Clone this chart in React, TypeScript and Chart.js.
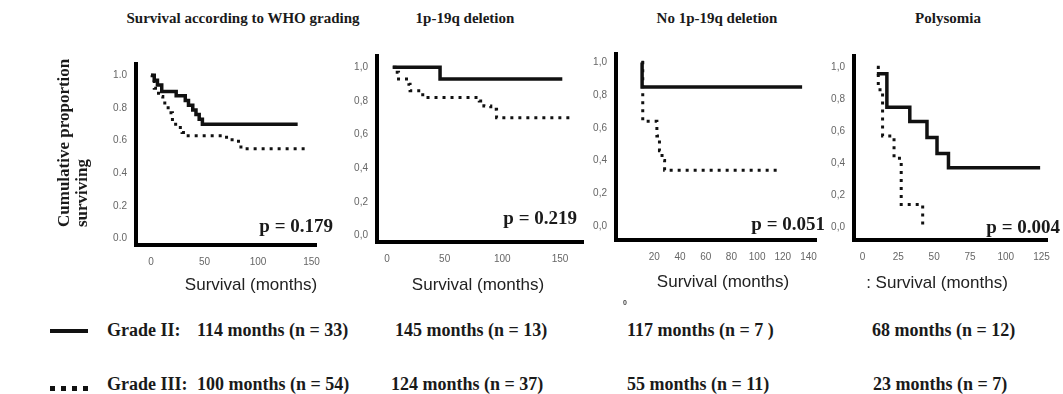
import React, { useEffect, useRef } from 'react';
import { Chart, registerables } from 'chart.js';

Chart.register(...registerables);

// ---------- DATA ----------
// Panel 1: Survival according to WHO grading
const p1Grade2Months = [0, 3, 6, 10, 23.5, 32, 35, 39, 42, 45, 48, 137];
const p1Grade2Surv = [1.0, 0.97, 0.94, 0.9, 0.875, 0.846, 0.817, 0.788, 0.759, 0.73, 0.7, 0.7];
const p1Grade3Months = [0, 1, 3, 7, 11, 16, 20, 23, 29, 33, 68, 74, 80, 84, 147];
const p1Grade3Surv = [1.0, 0.97, 0.92, 0.87, 0.83, 0.77, 0.71, 0.68, 0.65, 0.63, 0.62, 0.605, 0.595, 0.55, 0.55];

// Panel 2: 1p-19q deletion
const p2Grade2Months = [5, 46, 152];
const p2Grade2Surv = [1.0, 0.93, 0.93];
const p2Grade3Months = [5, 7, 10, 19, 20, 31, 80, 84, 90, 95, 162];
const p2Grade3Surv = [1.0, 0.97, 0.93, 0.9, 0.86, 0.82, 0.8, 0.77, 0.75, 0.7, 0.7];

// Panel 3: No 1p-19q deletion
const p3Grade2Months = [10, 10.5, 135];
const p3Grade2Surv = [1.0, 0.85, 0.85];
const p3Grade3Months = [10, 11, 22, 24, 26, 28, 117];
const p3Grade3Surv = [1.0, 0.64, 0.55, 0.46, 0.4, 0.34, 0.34];

// Panel 4: Polysomia
const p4Grade2Months = [10, 17, 33, 45, 52, 60, 124];
const p4Grade2Surv = [0.96, 0.75, 0.66, 0.56, 0.46, 0.37, 0.37];
const p4Grade3Months = [10, 11, 14, 22, 27, 42];
const p4Grade3Surv = [1.0, 0.86, 0.57, 0.43, 0.14, 0.0];

// Tick values / labels
const yTickValues = [0, 0.2, 0.4, 0.6, 0.8, 1.0];
const yTickLabelsDot = ['0.0', '0.2', '0.4', '0.6', '0.8', '1.0'];
const yTickLabelsComma = ['0,0', '0,2', '0,4', '0,6', '0,8', '1,0'];
const p1XTicks = [0, 50, 100, 150];
const p2XTicks = [0, 50, 100, 150];
const p3XTicks = [20, 40, 60, 80, 100, 120, 140];
const p4XTicks = [0, 25, 50, 75, 100, 125];

// Texts
const panelTitles = ['Survival according to WHO grading', '1p-19q deletion', 'No 1p-19q deletion', 'Polysomia'];
const xAxisTitles = ['Survival (months)', 'Survival (months)', 'Survival (months)', ': Survival (months)'];
const pValues = ['p = 0.179', 'p = 0.219', 'p = 0.051', 'p = 0.004'];
const yAxisTitle = 'Cumulative proportion\nsurviving';
const legendGroups = ['Grade II:', 'Grade III:'];
const grade2Medians = ['114 months (n = 33)', '145 months (n = 13)', '117 months (n = 7 )', '68 months (n = 12)'];
const grade3Medians = ['100 months (n = 54)', '124 months (n = 37)', '55 months (n = 11)', '23 months (n = 7)'];

// ---------- LAYOUT ----------
const SERIF = '"Liberation Serif", "Times New Roman", serif';
const SANS = '"Liberation Sans", Arial, sans-serif';
const YW = 40;
const XH = 34;
const PADT = 4;
const PADR = 3;

type Geo = {
  axisLeft: number; axisTop: number; axisBottom: number; axisRight: number;
  y1px: number; y0px: number;
  xa: number; pa: number; xb: number; pb: number;
};

const geos: Geo[] = [
  { axisLeft: 136, axisTop: 53, axisBottom: 245, axisRight: 328, y1px: 65, y0px: 238, xa: 0, pa: 152, xb: 150, pb: 323 },
  { axisLeft: 377, axisTop: 45, axisBottom: 242, axisRight: 583, y1px: 57, y0px: 235, xa: 0, pa: 387, xb: 150, pb: 560 },
  { axisLeft: 616, axisTop: 43, axisBottom: 240, axisRight: 825, y1px: 52, y0px: 225, xa: 20, pa: 656, xb: 140, pb: 817 },
  { axisLeft: 854, axisTop: 45, axisBottom: 240, axisRight: 1058, y1px: 57, y0px: 226, xa: 0, pa: 863, xb: 125, pb: 1052 },
];

type PanelData = {
  g2x: number[]; g2y: number[]; g3x: number[]; g3y: number[];
  xTicks: number[]; yLabels: string[];
};

const panels: PanelData[] = [
  { g2x: p1Grade2Months, g2y: p1Grade2Surv, g3x: p1Grade3Months, g3y: p1Grade3Surv, xTicks: p1XTicks, yLabels: yTickLabelsDot },
  { g2x: p2Grade2Months, g2y: p2Grade2Surv, g3x: p2Grade3Months, g3y: p2Grade3Surv, xTicks: p2XTicks, yLabels: yTickLabelsComma },
  { g2x: p3Grade2Months, g2y: p3Grade2Surv, g3x: p3Grade3Months, g3y: p3Grade3Surv, xTicks: p3XTicks, yLabels: yTickLabelsComma },
  { g2x: p4Grade2Months, g2y: p4Grade2Surv, g3x: p4Grade3Months, g3y: p4Grade3Surv, xTicks: p4XTicks, yLabels: yTickLabelsComma },
];

function Panel({ data, geo }: { data: PanelData; geo: Geo }) {
  const ref = useRef<HTMLCanvasElement>(null);
  const w = YW + (geo.axisRight - geo.axisLeft) + PADR;
  const h = PADT + (geo.axisBottom - geo.axisTop) + XH;

  useEffect(() => {
    const pxY = geo.y0px - geo.y1px;
    const yMax = 1 + (geo.y1px - geo.axisTop) / pxY;
    const yMin = -(geo.axisBottom - geo.y0px) / pxY;
    const ppm = (geo.pb - geo.pa) / (geo.xb - geo.xa);
    const xMin = geo.xa - (geo.pa - geo.axisLeft) / ppm;
    const xMax = geo.xa + (geo.axisRight - geo.pa) / ppm;

    const chart = new Chart(ref.current as HTMLCanvasElement, {
      type: 'line',
      data: {
        datasets: [
          {
            data: data.g2x.map((x, i) => ({ x, y: data.g2y[i] })),
            borderColor: '#111',
            borderWidth: 3.5,
            stepped: true,
            pointRadius: 0,
            fill: false,
          },
          {
            data: data.g3x.map((x, i) => ({ x, y: data.g3y[i] })),
            borderColor: '#111',
            borderWidth: 3,
            borderDash: [3, 5],
            borderCapStyle: 'butt',
            stepped: true,
            pointRadius: 0,
            fill: false,
          },
        ],
      },
      options: {
        responsive: false,
        maintainAspectRatio: false,
        animation: false,
        events: [],
        layout: { padding: { left: 0, top: PADT, right: PADR, bottom: 0 } },
        plugins: { legend: { display: false }, tooltip: { enabled: false } },
        scales: {
          x: {
            type: 'linear',
            min: xMin,
            max: xMax,
            grid: { display: false, drawTicks: false },
            border: { display: true, color: '#000', width: 4 },
            afterBuildTicks: (s: any) => {
              s.ticks = data.xTicks.map((v) => ({ value: v }));
            },
            afterFit: (s: any) => {
              s.height = XH;
            },
            ticks: {
              autoSkip: false,
              maxRotation: 0,
              padding: 11,
              color: '#666',
              font: { family: SANS, size: 10 },
            },
          },
          y: {
            type: 'linear',
            min: yMin,
            max: yMax,
            grid: { display: false, drawTicks: false },
            border: { display: true, color: '#000', width: 4 },
            afterBuildTicks: (s: any) => {
              s.ticks = yTickValues.map((v) => ({ value: v }));
            },
            afterFit: (s: any) => {
              s.width = YW;
            },
            ticks: {
              autoSkip: false,
              padding: 9,
              color: '#666',
              font: { family: SANS, size: 10 },
              callback: (_v: any, i: number) => data.yLabels[i],
            },
          },
        },
      },
    } as any);
    return () => chart.destroy();
  }, []);

  return (
    <canvas
      ref={ref}
      width={w}
      height={h}
      style={{ position: 'absolute', left: geo.axisLeft - YW, top: geo.axisTop - PADT, width: w, height: h }}
    />
  );
}

type TxtProps = {
  text: string; x: number; y: number; size: number; family: string;
  weight?: number; align?: 'left' | 'center' | 'right'; color?: string;
};

function Txt({ text, x, y, size, family, weight = 700, align = 'left', color = '#1a1a1a' }: TxtProps) {
  const lh = Math.round(size * 1.2);
  const W = 400;
  const left = align === 'left' ? x : align === 'center' ? x - W / 2 : x - W;
  return (
    <div
      style={{
        position: 'absolute', left, top: y - lh / 2, width: W, height: lh, lineHeight: `${lh}px`,
        fontFamily: family, fontSize: size, fontWeight: weight, textAlign: align, color, whiteSpace: 'pre',
      }}
    >
      {text}
    </div>
  );
}

const titleCenters = [243, 465, 717, 948];
const xTitleCenters = [251, 478, 723, 937];
const xTitleY = [285, 285, 282, 283];
const pRight = [333, 577, 825, 1060];
const pY = [225, 217, 223, 226];
const grade2X = [197, 395, 627, 872];
const grade3X = [197, 391, 627, 873];

export default function App() {
  return (
    <div style={{ position: 'absolute', left: 0, top: 0, width: 1063, height: 394, background: '#fff', overflow: 'hidden' }}>
      {panels.map((p, i) => (
        <Panel key={i} data={p} geo={geos[i]} />
      ))}
      {panelTitles.map((t, i) => (
        <Txt key={'t' + i} text={t} x={titleCenters[i]} y={18} size={15} family={SERIF} align="center" />
      ))}
      {xAxisTitles.map((t, i) => (
        <Txt key={'x' + i} text={t} x={xTitleCenters[i]} y={xTitleY[i]} size={17} family={SANS} weight={400} align="center" color="#222" />
      ))}
      {pValues.map((t, i) => (
        <Txt key={'p' + i} text={t} x={pRight[i]} y={pY[i]} size={19} family={SERIF} align="right" />
      ))}
      <div
        style={{
          position: 'absolute', left: 55, top: 227, transform: 'rotate(-90deg)', transformOrigin: '0 0',
          whiteSpace: 'pre', fontFamily: SERIF, fontWeight: 700, fontSize: 17, lineHeight: '18px', color: '#1a1a1a',
        }}
      >
        {yAxisTitle}
      </div>
      <Txt text="0" x={623} y={303} size={7} family={SANS} weight={700} color="#444" />
      {/* legend samples */}
      <div style={{ position: 'absolute', left: 50, top: 329, width: 38, height: 4, background: '#111' }} />
      {[0, 1, 2, 3].map((k) => (
        <div key={'d' + k} style={{ position: 'absolute', left: 50 + k * 11, top: 386, width: 5, height: 5, background: '#111' }} />
      ))}
      <Txt text={legendGroups[0]} x={107} y={330} size={18} family={SERIF} />
      <Txt text={legendGroups[1]} x={107} y={384} size={18} family={SERIF} />
      {grade2Medians.map((t, i) => (
        <Txt key={'g2' + i} text={t} x={grade2X[i]} y={330} size={18} family={SERIF} />
      ))}
      {grade3Medians.map((t, i) => (
        <Txt key={'g3' + i} text={t} x={grade3X[i]} y={384} size={18} family={SERIF} />
      ))}
    </div>
  );
}
